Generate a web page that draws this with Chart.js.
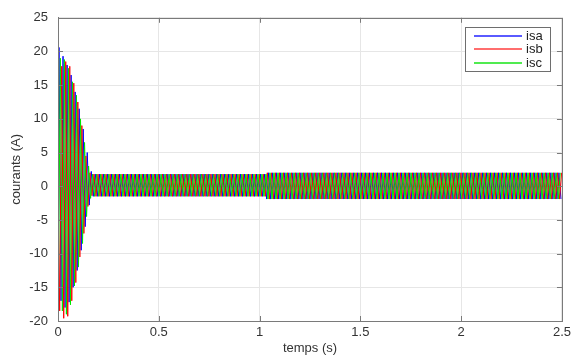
<!DOCTYPE html>
<html>
<head>
<meta charset="utf-8">
<script src="https://cdn.jsdelivr.net/npm/chart.js@4.4.1/dist/chart.umd.min.js"></script>
<style>
  html, body { margin: 0; padding: 0; background: #fff; }
  #wrap { width: 575px; height: 356px; }
</style>
</head>
<body>
<div id="wrap"><canvas id="chart" width="575" height="356"></canvas></div>
<script>
// three phase stator currents, peak value of every half cycle (A)
const phaseNames = ['isa', 'isb', 'isc'];
const phaseColors = ['rgb(0,0,255)', 'rgb(255,0,0)', 'rgb(0,230,0)'];
const legendColors = ['rgb(90,90,255)', 'rgb(255,110,110)', 'rgb(80,235,80)'];
const phaseFirstPeak = [0.005, 0.0083, 0.0017]; // s
const halfPeriod = 0.01; // 50 Hz

// start-up transient
const startPeaksA = [20.6, -17.0, 19.3, -18.0, 18.0, -17.2, 16.5, -15.0, 14.0, -12.5, 11.5, -9.5, 8.5, -6.0, 5.0, -2.8, 2.2, -1.5];
const startPeaksB = [-18.5, 17.8, -19.6, 18.5, -19.3, 17.8, -17.0, 15.3, -14.3, 12.5, -10.5, 9.0, -7.0, 4.5, -3.0, 2.0, -1.4, 1.8];
const startPeaksC = [-16.0, 19.0, -18.5, 18.8, -19.0, 17.5, -17.6, 15.5, -14.8, 13.5, -12.0, 10.0, -8.5, 6.5, -4.5, 3.0, -1.8, 1.8];

// steady state (no load, then load applied near 1.035 s)
const steadyStart = [0.18, 1.035];
const steadyEnd = [1.035, 2.5];
const steadyHigh = [1.8, 2.0];
const steadyLow = [-1.5, -1.9];

const xTicks = [0, 0.5, 1, 1.5, 2, 2.5];
const yTicks = [-20, -15, -10, -5, 0, 5, 10, 15, 20, 25];

const FONT = 'Liberation Sans, Arial, Helvetica, sans-serif';

function buildPhase(idx, startPeaks){
  const pts = [{x: 0, y: 0}];
  let t = phaseFirstPeak[idx];

  startPeaks.forEach(v => {
    pts.push({x: t, y: v});
    t += halfPeriod;
  });

  let positive = startPeaks[startPeaks.length - 1] < 0;

  while(t <= steadyEnd[1]){
    const seg = t < steadyEnd[0] ? 0 : 1;
    pts.push({x: t, y: positive ? steadyHigh[seg] : steadyLow[seg]});
    positive = !positive;
    t += halfPeriod;
  }
  return pts;
}

const phaseData = [
  buildPhase(0, startPeaksA),
  buildPhase(1, startPeaksB),
  buildPhase(2, startPeaksC)
];

const frameAndLegend = {
  id: 'frameAndLegend',
  afterDatasetsDraw(chart){
    const ctx = chart.ctx;
    const a = chart.chartArea;
    const xs = chart.scales.x;
    const ys = chart.scales.y;

    ctx.save();
    ctx.setLineDash([]);
    ctx.strokeStyle = '#7a7a7a';
    ctx.lineWidth = 1;
    ctx.strokeRect(Math.round(a.left) + 0.5, Math.round(a.top) + 0.5,
      Math.round(a.right - a.left), Math.round(a.bottom - a.top));

    // small inward ticks, matlab style
    ctx.beginPath();
    xTicks.forEach(v => {
      const px = Math.round(xs.getPixelForValue(v)) + 0.5;
      ctx.moveTo(px, a.bottom); ctx.lineTo(px, a.bottom - 5);
      ctx.moveTo(px, a.top); ctx.lineTo(px, a.top + 5);
    });
    yTicks.forEach(v => {
      const py = Math.round(ys.getPixelForValue(v)) + 0.5;
      ctx.moveTo(a.left, py); ctx.lineTo(a.left + 5, py);
      ctx.moveTo(a.right, py); ctx.lineTo(a.right - 5, py);
    });
    ctx.stroke();

    // legend box
    const bx = 465, by = 27, bw = 85, bh = 44;
    ctx.fillStyle = '#fff';
    ctx.fillRect(bx, by, bw, bh);
    ctx.strokeStyle = '#6e6e6e';
    ctx.strokeRect(bx + 0.5, by + 0.5, bw, bh);

    ctx.font = '13px ' + FONT;
    ctx.textBaseline = 'middle';
    ctx.textAlign = 'left';
    phaseNames.forEach((name, i) => {
      const y = Math.round(by + 9 + i * 13.3);
      ctx.fillStyle = legendColors[i];
      ctx.fillRect(474, y - 1, 48, 2);
      ctx.fillStyle = '#222';
      ctx.fillText(name, 526, y);
    });
    ctx.restore();
  }
};

new Chart(document.getElementById('chart'), {
  type: 'line',
  data: {
    datasets: phaseNames.map((name, i) => ({
      label: name,
      data: phaseData[i],
      borderColor: phaseColors[i],
      borderWidth: 1,
      pointRadius: 0,
      tension: 0,
      order: 3 - i
    }))
  },
  options: {
    responsive: false,
    animation: false,
    events: [],
    parsing: false,
    layout: { padding: { top: 15, right: 11, left: 0, bottom: 0 } },
    plugins: {
      legend: { display: false },
      tooltip: { enabled: false }
    },
    scales: {
      x: {
        type: 'linear',
        min: 0,
        max: 2.5,
        afterBuildTicks: s => { s.ticks = xTicks.map(v => ({value: v})); },
        afterFit: s => { s.height = 35; },
        ticks: {
          color: '#333',
          padding: 4,
          maxRotation: 0,
          font: { family: FONT, size: 13 },
          callback: v => String(v)
        },
        grid: { color: '#e6e6e6', drawTicks: false },
        border: { color: '#7a7a7a' },
        title: {
          display: true,
          text: 'temps (s)',
          color: '#333',
          font: { family: FONT, size: 13 },
          padding: { top: 6, bottom: 0 }
        }
      },
      y: {
        min: -20,
        max: 25,
        afterBuildTicks: s => { s.ticks = yTicks.map(v => ({value: v})); },
        afterFit: s => { s.width = 58; },
        ticks: {
          color: '#333',
          padding: 10,
          font: { family: FONT, size: 13 },
          callback: v => String(v)
        },
        grid: { color: '#e6e6e6', drawTicks: false },
        border: { color: '#7a7a7a' },
        title: {
          display: true,
          text: 'courants (A)',
          color: '#333',
          font: { family: FONT, size: 13 },
          padding: { top: 9, bottom: 0 }
        }
      }
    }
  },
  plugins: [frameAndLegend]
});
</script>
</body>
</html>
